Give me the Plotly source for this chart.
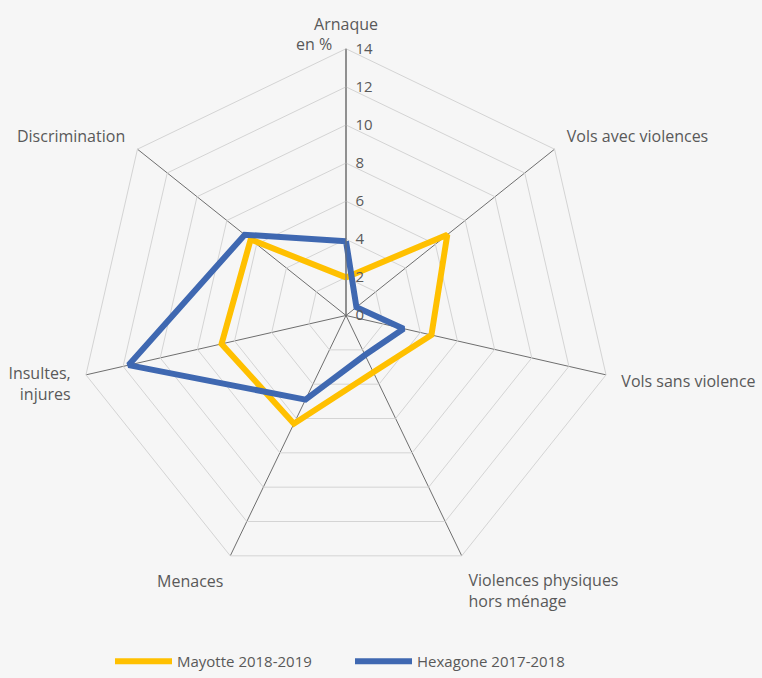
import plotly.graph_objects as go

categories = ["Arnaque", "Vols avec violences", "Vols sans violence",
              "Violences physiques hors ménage", "Menaces",
              "Insultes, injures", "Discrimination"]
category_labels = ["Arnaque", "Vols avec violences", "Vols sans violence",
                   "Violences physiques<br>hors ménage", "Menaces",
                   "Insultes,<br>injures", "Discrimination"]
mayotte = [2.0, 6.8, 4.6, 3.3, 6.3, 6.7, 6.4]
hexagone = [3.9, 0.7, 3.1, 2.3, 4.9, 11.7, 6.8]
tick_vals = [0, 2, 4, 6, 8, 10, 12, 14]
series_names = ["Mayotte 2018-2019", "Hexagone 2017-2018"]
colors = ["#FFC000", "#3F68B1"]

fig = go.Figure()
for name, vals, col in zip(series_names, [mayotte, hexagone], colors):
    fig.add_trace(go.Scatterpolar(
        r=vals + vals[:1], theta=categories + categories[:1],
        mode="lines", name=name,
        line=dict(color=col, width=6), hoverinfo="r+theta"))

W, H = 762, 678
MB = 40
PH = H - MB
cx, cy, R = 346, 317, 268
fig.update_layout(
    width=W, height=H,
    paper_bgcolor="#F6F6F6",
    margin=dict(l=0, r=0, t=0, b=MB),
    font=dict(family="Open Sans", size=16, color="#595959"),
    polar=dict(
        bgcolor="#F6F6F6",
        gridshape="linear",
        domain=dict(x=[(cx - R) / W, (cx + R) / W], y=[1 - (cy + R) / PH, 1 - (cy - R) / PH]),
        angularaxis=dict(rotation=90, direction="clockwise",
                         tickmode="array", tickvals=categories, ticktext=category_labels,
                         gridcolor="#6E6E6E", gridwidth=1,
                         showline=True, linecolor="#D4D4D4", linewidth=1,
                         ticks="outside", ticklen=12, tickcolor="rgba(0,0,0,0)",
                         tickfont=dict(size=16, color="#595959")),
        radialaxis=dict(range=[0, 14], tickvals=tick_vals, angle=90, tickangle=90,
                        side="clockwise",
                        gridcolor="#D4D4D4", gridwidth=1,
                        showline=True, linecolor="#6E6E6E", linewidth=1,
                        ticks="outside", ticklen=6, tickcolor="rgba(0,0,0,0)",
                        tickfont=dict(size=15, color="#595959")),
    ),
    legend=dict(orientation="h", x=110 / W, xanchor="left",
                y=(PH - 665) / PH, yanchor="middle",
                font=dict(size=15, color="#595959"), itemwidth=57,
                entrywidth=168, entrywidthmode="pixels"),
    annotations=[dict(text="en %", x=334 / W, y=1 - 44 / PH, xref="paper", yref="paper",
                      xanchor="right", yanchor="middle", showarrow=False,
                      font=dict(size=16, color="#595959"))],
)
fig.write_html("out.html", config={"displayModeBar": False},
               post_script="document.body.style.margin='0';")
